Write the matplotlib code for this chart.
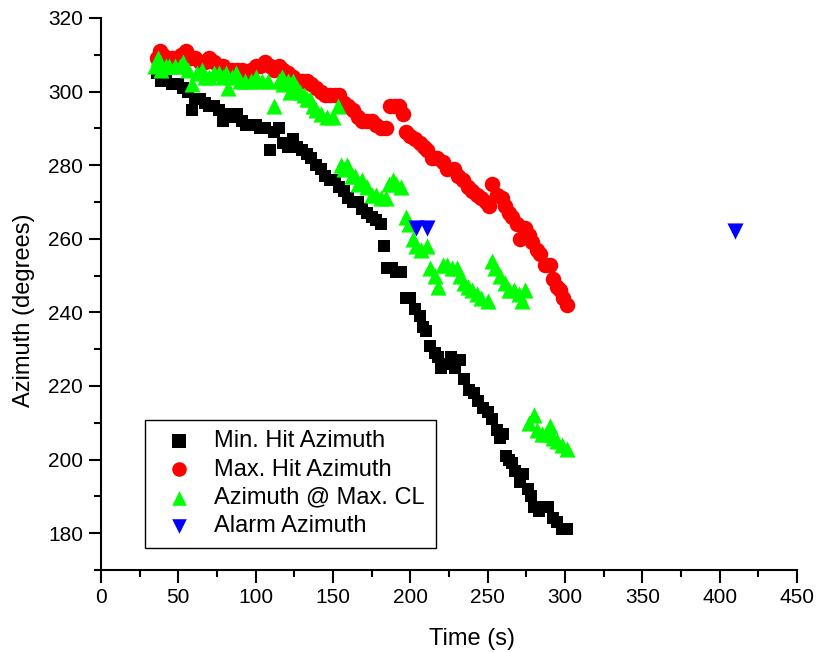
import matplotlib
matplotlib.use("Agg")
import matplotlib.pyplot as plt
from matplotlib.ticker import MultipleLocator

plt.rcParams['font.family'] = ['Liberation Sans', 'DejaVu Sans']

# Min. Hit Azimuth (black squares)
min_t = [36, 39, 42, 46, 50, 53, 56, 59, 61, 64, 67, 70, 73, 76, 79, 82, 85, 88, 91, 94,
         97, 100, 103, 106, 109, 112, 115, 118, 121, 124, 127, 130, 133, 136, 139, 142, 145,
         148, 151, 154, 157, 160, 163, 166, 169, 172, 175, 178, 181, 183, 185, 188, 191, 194,
         197, 200, 203, 206, 208, 210, 213, 216, 218, 220, 223, 226, 229, 232, 235, 238, 241,
         244, 247, 250, 253, 256, 258, 260, 262, 264, 266, 268, 271, 273, 276, 278, 280, 283,
         286, 289, 292, 295, 298, 301]
min_az = [305, 303, 303, 302, 302, 301, 300, 295, 298, 298, 297, 296, 296, 295, 292, 294, 293,
          294, 292, 291, 291, 291, 290, 290, 284, 289, 290, 286, 285, 287, 285, 284, 283, 282,
          280, 279, 277, 276, 276, 274, 273, 271, 270, 270, 268, 267, 266, 265, 264, 258, 252,
          252, 251, 251, 244, 244, 241, 239, 236, 235, 231, 229, 228, 225, 226, 228, 225, 227,
          222, 219, 218, 216, 214, 213, 211, 208, 206, 207, 201, 200, 199, 197, 194, 196, 192,
          190, 187, 186, 187, 187, 184, 183, 181, 181]

# Max. Hit Azimuth (red circles)
max_t = [36, 38, 40, 43, 46, 49, 52, 55, 58, 61, 64, 67, 70, 73, 76, 79, 82, 85, 88, 91, 94,
         97, 100, 103, 106, 109, 112, 115, 118, 121, 124, 127, 130, 133, 136, 139, 142, 145,
         148, 151, 154, 157, 160, 163, 166, 169, 172, 175, 178, 181, 184, 187, 190, 193, 195,
         197, 200, 203, 206, 209, 211, 214, 217, 221, 224, 228, 231, 234, 237, 240, 243, 246,
         249, 251, 253, 256, 259, 261, 264, 266, 269, 271, 274, 277, 279, 282, 284, 287, 290,
         292, 295, 297, 299, 301]
max_az = [309, 311, 310, 309, 309, 309, 310, 311, 309, 309, 308, 308, 309, 308, 307, 307, 306,
          306, 306, 306, 305, 306, 307, 307, 308, 307, 306, 307, 306, 305, 304, 303, 303, 303,
          302, 301, 300, 299, 299, 299, 299, 297, 296, 295, 293, 292, 292, 292, 291, 290, 290,
          296, 296, 296, 294, 289, 288, 287, 286, 285, 284, 282, 282, 281, 279, 279, 277, 276,
          274, 273, 272, 271, 270, 269, 275, 272, 271, 269, 267, 266, 264, 260, 263, 261, 259,
          257, 256, 253, 253, 249, 247, 246, 244, 242]

# Azimuth @ Max. CL (green triangles)
cl_t = [35, 37, 39, 42, 44, 48, 51, 53, 56, 59, 62, 65, 67, 70, 73, 76, 79, 81, 82, 85, 87,
        90, 93, 97, 100, 104, 108, 112, 115, 117, 118, 121, 122, 124, 127, 129, 131, 133, 135,
        137, 139, 142, 146, 150, 153, 155, 157, 159, 162, 164, 166, 169, 172, 175, 178, 181,
        184, 186, 189, 191, 194, 197, 199, 202, 204, 207, 211, 213, 216, 218, 221, 224, 227,
        230, 232, 235, 237, 240, 243, 246, 250, 253, 255, 258, 261, 264, 267, 270, 272, 274,
        277, 280, 282, 285, 288, 290, 292, 295, 298, 301]
cl_az = [307, 309, 306, 307, 307, 307, 307, 308, 306, 302, 305, 306, 304, 304, 305, 305, 304,
         305, 301, 304, 305, 303, 303, 303, 304, 303, 303, 296, 303, 304, 302, 303, 300, 303,
         301, 300, 299, 298, 298, 296, 295, 294, 293, 293, 296, 280, 279, 280, 277, 277, 275,
         276, 274, 272, 272, 271, 271, 275, 276, 275, 274, 266, 264, 260, 258, 257, 258, 252,
         250, 247, 253, 253, 252, 252, 250, 248, 247, 246, 245, 244, 243, 254, 252, 250, 248,
         246, 246, 245, 243, 246, 210, 212, 208, 207, 207, 209, 206, 205, 204, 203]

# Alarm Azimuth (blue down triangles)
alarm_t = [204, 211, 410]
alarm_az = [263, 263, 262]

fig = plt.figure(figsize=(8.19, 6.52), dpi=100)
ax = fig.add_axes([0.1233, 0.1258, 0.8498, 0.8466])

ax.scatter(min_t, min_az, marker='s', s=85, color='black', linewidths=0,
           label='Min. Hit Azimuth', zorder=3)
ax.scatter(max_t, max_az, marker='o', s=125, color='#ff0000', linewidths=0,
           label='Max. Hit Azimuth', zorder=3)
ax.scatter(cl_t, cl_az, marker='^', s=135, color='#00ff00', linewidths=0,
           label='Azimuth @ Max. CL', zorder=4)
ax.scatter(alarm_t, alarm_az, marker='v', s=135, color='#0000ff', linewidths=0,
           label='Alarm Azimuth', zorder=5)

ax.set_xlim(0, 450)
ax.set_ylim(170, 320)
ax.xaxis.set_major_locator(MultipleLocator(50))
ax.xaxis.set_minor_locator(MultipleLocator(25))
ax.yaxis.set_major_locator(MultipleLocator(20))
ax.yaxis.set_minor_locator(MultipleLocator(10))
ax.set_yticks(range(180, 321, 20))

for side in ['top', 'right']:
    ax.spines[side].set_visible(False)
for side in ['left', 'bottom']:
    ax.spines[side].set_linewidth(1.5)

ax.tick_params(which='major', direction='out', length=9, width=1.5, labelsize=15, pad=4)
ax.tick_params(which='minor', direction='out', length=5, width=1.5)

ax.set_xlabel('Time (s)', fontsize=17)
ax.set_ylabel('Azimuth (degrees)', fontsize=17)
ax.xaxis.set_label_coords(0.533, -0.105)
ax.yaxis.set_label_coords(-0.095, 0.471)

leg = ax.legend(loc='lower left', bbox_to_anchor=(0.063, 0.04), fontsize=17,
                frameon=True, fancybox=False, edgecolor='black', framealpha=1,
                handletextpad=0.5, borderpad=0.45, labelspacing=0.27, borderaxespad=0,
                scatterpoints=1)
leg.get_frame().set_linewidth(1.0)
for h in leg.legend_handles:
    h.set_sizes([110])

fig.savefig('out.png', dpi=100)
